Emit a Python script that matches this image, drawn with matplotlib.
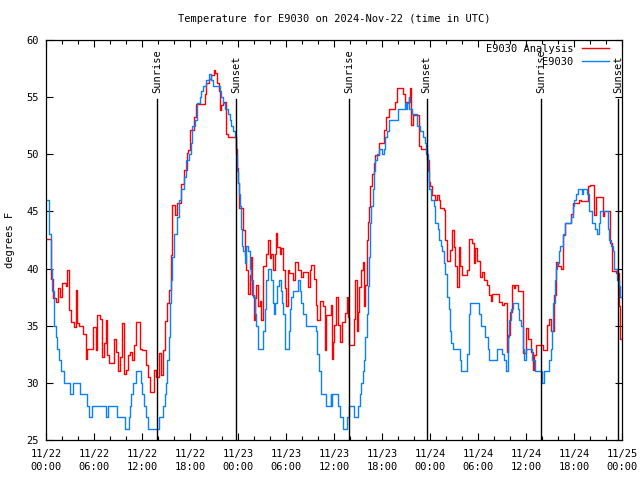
import matplotlib
matplotlib.use("Agg")
import matplotlib.pyplot as plt
import matplotlib.dates as mdates
import matplotlib.transforms as mtransforms
import pandas as pd

plt.rcParams['font.family'] = ['DejaVu Sans Mono']
plt.rcParams['font.size'] = 7.5

BASE = pd.Timestamp('2024-11-22 00:00')
END_H = 72.0

# E9030 Analysis (red): change points, hours after 11/22 00:00 UTC, degrees F
red_hours = [0, 0.67, 0.83, 1.21, 1.5, 1.75, 2.04, 2.46, 2.67, 2.875, 3.08, 3.5, 3.71, 3.92,
             4.125, 4.67, 4.96, 5.17, 5.92, 6.21, 6.42, 6.75, 7.04, 7.25, 7.46, 7.67, 7.875,
             8.5, 8.71, 9.0, 9.25, 9.5, 9.75, 9.96, 10.25, 10.5, 10.79, 11.0, 11.21, 11.75,
             12.04, 12.46, 12.75, 13.0, 13.5, 13.71, 14.125, 14.33, 14.67, 14.83, 15.08,
             15.375, 15.58, 15.79, 16.08, 16.42, 16.83, 17.25, 17.58, 17.8, 18.0,
             18.5, 18.79, 19.83, 20.04, 20.33, 20.58, 21.0, 21.17, 21.42, 21.58, 21.75,
             21.92, 22.125, 22.54, 22.75, 23.79, 23.92, 24.0, 24.125, 24.625, 24.83, 25.04,
             25.25, 25.46, 25.67, 25.79, 25.96, 26.08, 26.29, 26.5, 26.71, 26.92, 27.125,
             27.54, 27.75, 27.96, 28.17, 28.375, 28.58, 28.79, 28.92, 29.21, 29.42, 29.625,
             29.83, 30.04, 30.25, 30.42, 30.875, 31.08, 31.5, 31.92, 32.125, 32.75, 32.96,
             33.17, 33.5, 33.71, 33.92, 34.21, 34.625, 34.83, 35.04, 35.58, 35.75, 35.875,
             35.96, 36.25, 36.5, 36.79, 37.0, 37.42, 37.625, 37.75, 37.92, 38.46, 38.67,
             38.875, 39.0, 39.17, 39.42, 39.58, 39.79, 39.92, 40.125, 40.25, 40.42, 40.54,
             40.75, 40.96, 41.17, 41.58, 42.21, 42.5, 42.83, 43.67, 43.875, 44.58, 44.83,
             45.54, 45.67, 45.83, 46.67, 46.92, 47.625, 47.83, 48.04, 48.25, 48.67, 48.875,
             49.08, 49.29, 49.71, 49.92, 50.125, 50.54, 50.75, 50.96, 51.17, 51.375, 51.58,
             51.79, 52.0, 52.625, 52.83, 53.25, 53.46, 53.67, 53.875, 54.25, 54.5, 54.79,
             55.08, 55.33, 55.625, 55.75, 56.67, 57.0, 57.29, 57.58, 57.79, 58.0, 58.25,
             58.46, 58.67, 58.96, 59.58, 60.0, 60.21, 60.625, 60.83, 61.04, 61.25, 62.08,
             62.58, 62.83, 63.125, 63.54, 63.75, 63.96, 64.375, 64.67, 64.92, 65.625,
             65.83, 66.67, 66.875, 67.71, 68.0, 68.54, 68.75, 69.58, 69.79, 70.54, 70.7,
             71.25, 71.58, 71.75]
red_temps = [42.6, 39.1, 37.4, 37.1, 38.3, 37.5, 38.7, 38.5, 39.9, 36.4, 35.3, 34.9, 38.1, 35.2,
             35.0, 34.3, 32.1, 33.0, 34.9, 32.9, 35.9, 35.6, 32.3, 33.5, 35.5, 32.4, 31.7,
             33.8, 32.7, 31.0, 32.3, 35.2, 30.8, 31.1, 32.4, 32.7, 32.0, 33.3, 35.3, 33.0,
             32.9, 31.6, 30.5, 29.2, 31.1, 30.5, 32.6, 30.7, 32.9, 35.4, 37.0,
             38.1, 41.2, 45.6, 44.7, 45.7, 47.4, 48.6, 50.1, 50.4, 52.1,
             53.3, 54.4, 55.3, 56.2, 56.6, 56.9, 57.4, 57.1, 56.2, 55.5, 53.9,
             54.3, 54.6, 51.8, 51.5, 50.5, 48.8, 47.5, 45.3, 43.4, 41.2, 39.9,
             37.8, 39.4, 41.0, 37.7, 35.5, 37.4, 38.6, 36.7, 37.2, 35.5, 40.2,
             41.3, 42.5, 40.9, 41.3, 39.9, 41.3, 43.1, 41.9, 41.3, 41.8, 39.9,
             38.3, 36.7, 39.9, 39.6, 39.0, 40.6, 39.9, 39.3, 39.7, 38.4, 39.9,
             40.3, 39.1, 36.8, 35.5, 37.2, 36.7, 32.9, 35.9, 36.8, 32.1, 33.6,
             35.1, 37.5, 35.1, 33.6, 35.3, 36.1, 37.5, 35.8, 33.3, 35.6, 39.0,
             34.5, 36.2, 38.4, 39.9, 40.6, 36.7, 38.6, 42.5, 44.1, 45.4, 47.2,
             48.3, 49.2, 49.9, 51.0, 52.1, 53.3, 54.0, 54.6, 55.8, 55.3, 54.6,
             55.8, 52.6, 53.4, 50.7, 50.5, 49.5, 47.6, 47.2, 46.4, 46.0, 46.4,
             46.0, 45.3, 45.1, 42.5, 40.7, 41.6, 43.4, 41.9, 40.2, 38.4, 41.9,
             40.2, 39.4, 39.9, 42.6, 42.2, 40.5, 41.8, 40.7, 39.3, 39.7, 39.0,
             38.6, 37.7, 37.2, 37.8, 37.1, 36.8, 37.0, 32.7, 34.2, 36.2, 38.6,
             38.3, 38.6, 38.0, 32.6, 34.8, 33.8, 32.7, 31.1, 32.4, 33.3, 32.9,
             35.1, 35.6, 34.5, 37.7, 40.6, 40.2, 40.0, 42.9, 44.0, 44.8,
             45.7, 46.0, 45.9, 47.2, 47.3, 44.7, 46.3, 44.6, 45.0, 42.2, 39.8,
             39.6, 36.7, 33.8]

# E9030 observations (blue): change points
blue_hours = [0, 0.33, 0.58, 0.79, 1.0, 1.21, 1.42, 1.625, 1.92, 2.25, 3.0, 3.42, 4.25, 5.17,
              5.42, 5.79, 7.46, 7.75, 8.92, 9.92, 10.33, 10.5, 10.67, 10.92, 11.21, 11.83,
              12.04, 12.25, 12.5, 12.79, 14.125, 14.67, 14.83, 15.0, 15.17, 15.33, 15.5,
              15.625, 15.79, 16.0, 16.33, 16.58, 16.83, 17.25, 17.46, 17.875, 18.08,
              18.25, 18.58, 18.92, 19.21, 19.42, 19.625, 20.04, 20.33, 20.58, 20.875, 21.71,
              21.92, 22.125, 22.42, 22.75, 22.96, 23.17, 23.375, 23.58, 23.79, 23.92, 24.0,
              24.08, 24.21, 24.33, 24.42, 24.5, 24.625, 24.83, 25.04, 25.25, 25.46, 25.67,
              25.875, 26.08, 26.29, 26.5, 27.125, 27.33, 27.54, 27.75, 28.17, 28.375, 28.5,
              28.67, 28.92, 29.08, 29.33, 29.5, 29.67, 29.83, 29.92, 30.33, 30.5, 30.67,
              30.875, 31.5, 31.71, 31.92, 32.125, 32.54, 33.79, 33.92, 34.08, 34.33, 34.42,
              35.04, 35.58, 35.67, 35.75, 36.5, 36.75, 37.125, 37.625, 37.83, 38.46, 39.0,
              39.29, 39.42, 39.58, 39.71, 39.83, 39.92, 40.125, 40.25, 40.42, 40.54, 40.67,
              40.83, 40.96, 41.17, 41.375, 41.58, 42.0, 42.21, 42.42, 42.625, 42.83, 44.0,
              44.83, 45.0, 45.125, 45.33, 45.42, 45.75, 46.375, 46.79, 47.08, 47.33, 47.5,
              47.75, 47.92, 48.17, 48.46, 48.67, 49.0, 49.17, 49.33, 49.5, 49.71, 49.92,
              50.125, 50.33, 50.54, 50.67, 50.83, 51.79, 51.92, 52.625, 52.83, 53.04, 54.17,
              54.375, 54.92, 55.21, 55.42, 56.33, 57.0, 57.29, 57.5, 57.79, 57.92, 58.125,
              58.42, 58.96, 59.17, 59.42, 59.58, 59.79, 60.0, 60.75, 61.17, 62.0, 62.29,
              62.83, 63.125, 63.25, 63.42, 63.58, 63.75, 63.875, 64.08, 64.25, 64.67, 64.92,
              65.625, 65.83, 66.04, 66.25, 66.46, 67.0, 67.17, 67.58, 67.83, 68.25, 68.67,
              68.83, 69.08, 69.25, 70.21, 70.42, 70.625, 70.83, 71.04, 71.33, 71.58, 71.75]
blue_temps = [46, 43, 40, 38, 35, 34, 33, 32, 31, 30, 29, 30, 29, 28,
              27, 28, 27, 28, 27, 26, 27, 28, 29, 30, 31, 30,
              29, 28, 27, 26, 27, 28, 29, 30, 32, 34, 37,
              39, 41, 43, 44.5, 46, 47, 48, 49.5, 50, 51,
              52.5, 53, 54.5, 55, 55.5, 56, 56.5, 57, 56.5, 56, 55.5,
              55, 54.5, 54, 53.5, 53, 52.5, 52, 51.5, 50, 48.5, 47.5,
              46.5, 45.5, 44, 43.5, 42, 41.5, 40.5, 42, 41.5, 40, 39,
              37.5, 36, 35, 33, 34.5, 36.5, 39, 40, 39, 37, 36,
              37, 38.5, 39, 38, 37, 36, 34.5, 33, 34.5, 36.5, 37.5,
              38, 39, 38, 37, 36, 35, 34.5, 32.5, 31, 30, 29,
              28, 29, 28, 29, 28, 27, 26, 27, 28, 27, 28,
              29, 30, 31, 32, 33, 34, 36, 38.5, 41, 44, 45.5,
              47, 48.5, 49.5, 50, 50.5, 50, 50.5, 51.5, 52, 53, 54,
              54.5, 54, 54.5, 55, 54, 53.5, 52.5, 52, 51.5, 51, 50,
              48.5, 47, 46, 45.5, 44, 43.5, 42.5, 42, 41.5, 40.5, 39.5,
              37.5, 36.5, 34.5, 33.5, 33, 32, 31, 32.5, 36, 37, 36,
              35, 34, 33, 32, 33, 32.5, 32, 31, 34, 35.5, 36.5,
              37, 36.5, 35.5, 35, 33, 32, 33, 32, 31, 30, 31,
              32, 33, 34.5, 37, 39, 40, 40.5, 41.5, 42, 43, 44,
              44.5, 45.5, 46, 46.5, 47, 46.5, 47, 46.5, 45, 44, 43.5,
              43, 44, 45, 43.5, 42.5, 42, 41.5, 40, 39, 38.5, 37.5]

sunrise_hours = [13.88, 37.9, 61.9]
sunset_hours = [23.72, 47.58, 71.54]

title = 'Temperature for E9030 on 2024-Nov-22 (time in UTC)'


def to_time(hours):
    return BASE + pd.to_timedelta(hours, unit='h')


fig = plt.figure(figsize=(6.4, 4.8), dpi=100)
ax = fig.add_axes([46 / 640, 40 / 480, 576 / 640, 400 / 480])

rt = to_time(red_hours + [END_H])
bt = to_time(blue_hours + [END_H])
ax.step(rt, red_temps + [red_temps[-1]], where='post', color='#ff0000', lw=1.0,
        label='E9030 Analysis')
ax.step(bt, blue_temps + [blue_temps[-1]], where='post', color='#0a80ff', lw=1.0,
        label='E9030')

trans = mtransforms.blended_transform_factory(ax.transData, ax.transAxes)
for hs, name in ((sunrise_hours, 'Sunrise'), (sunset_hours, 'Sunset')):
    for h in hs:
        t = to_time(h)
        ax.axvline(t, ymin=0, ymax=0.853, color='black', lw=1.0)
        ax.text(t, 0.868, name, rotation=90, transform=trans, ha='center',
                va='bottom', fontsize=7.5)

ax.set_xlim(to_time(0), to_time(END_H))
ax.set_ylim(25, 60)
ax.set_yticks(range(25, 61, 5))
ax.xaxis.set_major_locator(mdates.HourLocator(byhour=[0, 6, 12, 18]))
ax.xaxis.set_minor_locator(mdates.HourLocator(byhour=range(0, 24, 2)))
ax.xaxis.set_major_formatter(mdates.DateFormatter('%m/%d\n%H:%M'))
ax.tick_params(which='both', direction='in', top=True, right=True, width=0.8)
ax.tick_params(which='major', length=5)
ax.tick_params(which='minor', length=3)
ax.tick_params(axis='x', pad=6.5)
ax.tick_params(axis='y', pad=5)
for lab in ax.get_xticklabels():
    lab.set_linespacing(1.35)
for sp in ax.spines.values():
    sp.set_linewidth(0.9)

leg = ax.legend(loc='upper right', bbox_to_anchor=(0.9774, 0.99), frameon=False,
                markerfirst=False, handlelength=2.6, handletextpad=0.8,
                labelspacing=0.3, borderpad=0, borderaxespad=0, fontsize=7.5)

fig.text(334 / 640, 1 - 19 / 480, title, ha='center', va='center', fontsize=7.5)
fig.text(10 / 640, 0.5, 'degrees F', rotation=90, ha='center', va='center', fontsize=7.5)

fig.savefig('out.png', dpi=100)
